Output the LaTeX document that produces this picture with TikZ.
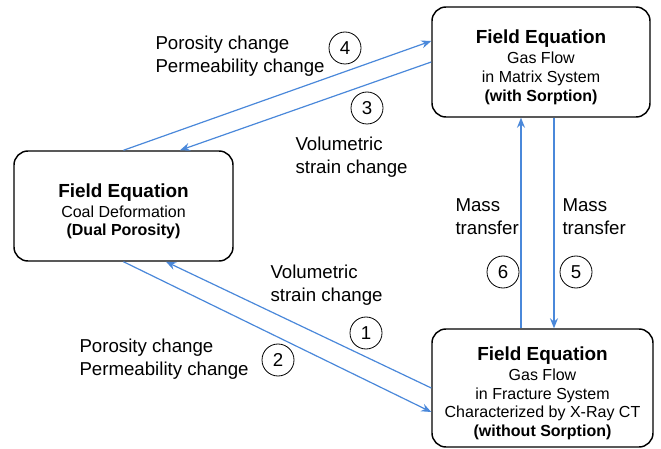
\documentclass[tikz,border=0pt]{standalone}
\usepackage{fontspec}
\setmainfont{Liberation Sans}
\usetikzlibrary{calc,arrows.meta}

\definecolor{flowblue}{RGB}{74,136,218}

\tikzset{every picture/.style={line width=0.75pt}}
\tikzset{
  eqbox/.style={draw=black, line width=1.1pt, rounded corners=10.5pt, align=center, inner sep=0pt, font=\fontsize{12}{14}\selectfont},
  flow/.style={draw=flowblue, line width=0.9pt, -{Stealth[length=7.5pt,width=6pt,inset=2.5pt]}},
  numcirc/.style={draw=black, circle, line width=0.6pt, minimum size=24pt, inner sep=0pt, font=\fontsize{14}{16}\selectfont},
  lbl/.style={anchor=base west, inner sep=0pt, align=left, font=\fontsize{14}{17.25}\selectfont}
}
\newcommand{\eqtitle}{\rule{0pt}{18pt}\textbf{\fontsize{14.2}{16}\selectfont Field Equation}\\[1pt]}

\begin{document}
\begin{tikzpicture}[x=0.75pt,y=0.75pt,yscale=-1,xscale=1]
\useasboundingbox (0,0) rectangle (661,449);

%Shape: Rounded Rect [id:matrix]
\node[eqbox, minimum width=163.5pt, minimum height=82.5pt] (matrix) at (541,62)
  {\eqtitle Gas Flow\\in Matrix System\\\textbf{(with Sorption)}};
%Shape: Rounded Rect [id:coal]
\node[eqbox, minimum width=164.25pt, minimum height=82.5pt] (coal) at (123.5,206)
  {\eqtitle Coal Deformation\\\textbf{(Dual Porosity)}};
%Shape: Rounded Rect [id:fracture]
\node[eqbox, minimum width=165.75pt, minimum height=88.5pt] (fracture) at (542.5,388)
  {\eqtitle Gas Flow\\in Fracture System\\Characterized by X-Ray CT\\\textbf{(without Sorption)}};

%Straight Lines [id:coal-matrix]
\draw[flow] (coal.north) -- ($(matrix.west)+(0,-21)$);
%Straight Lines [id:matrix-coal]
\draw[flow] (matrix.west) -- ($(coal.north)+(56.5,0)$);
%Straight Lines [id:coal-fracture]
\draw[flow] (coal.south) -- ($(fracture.west)+(0,24)$);
%Straight Lines [id:fracture-coal]
\draw[flow] (fracture.west) -- ($(coal.south)+(42.5,0)$);
%Straight Lines [id:fracture-matrix]
\draw[flow] ($(fracture.north)+(-21.5,0)$) -- ($(matrix.south)+(-20,0)$);
%Straight Lines [id:matrix-fracture]
\draw[flow] ($(matrix.south)+(13,0)$) -- ($(fracture.north)+(11.5,0)$);

% Text Node (anchored at last baseline)
\node[lbl] (poroTop) at (155,73) {Porosity change\\Permeability change};
% Text Node
\node[lbl] (strainTop) at (295,174) {Volumetric\\strain change};
% Text Node
\node[lbl] (strainBot) at (270,301) {Volumetric\\strain change};
% Text Node
\node[lbl] (poroBot) at (79,375) {Porosity change\\Permeability change};
% Text Node
\node[lbl] (massL) at (455,235) {Mass\\transfer};
% Text Node
\node[lbl] (massR) at (562,235) {Mass\\transfer};

%Shape: Circle
\node[numcirc] (c4) at (345,48) {4};
\node[numcirc] (c3) at (367,108) {3};
\node[numcirc] (c1) at (366,333) {1};
\node[numcirc] (c2) at (278,360) {2};
\node[numcirc] (c6) at (503,272) {6};
\node[numcirc] (c5) at (576,272) {5};

\end{tikzpicture}
\end{document}
